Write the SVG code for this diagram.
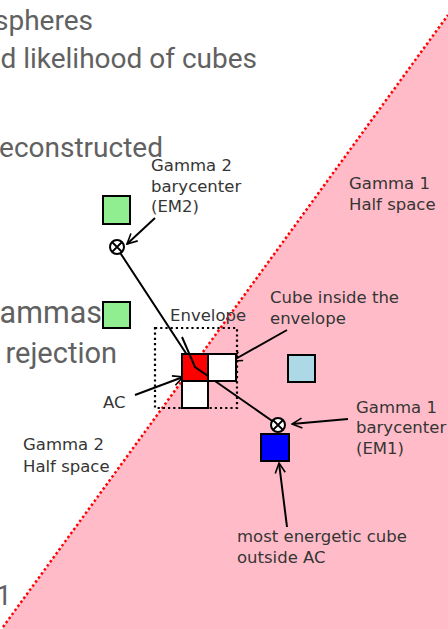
<svg xmlns="http://www.w3.org/2000/svg" width="448" height="629" viewBox="0 0 448 629">
  <style>
    .slide { font-family: Roboto, "Noto Sans", sans-serif; font-size: 28px; fill: #616161; text-anchor: end; }
    .lbl { font-family: "DejaVu Sans", Verdana, sans-serif; font-size: 16.5px; fill: #353535; }
    .cube { stroke: #000; stroke-width: 2; }
    .wire { fill: none; stroke: #000; stroke-width: 2; }
    .arrow { fill: none; stroke: #000; stroke-width: 2; marker-end: url(#head); }
    .bary { fill: #fff; stroke: #000; stroke-width: 2; }
  </style>
  <defs>
    <marker id="head" viewBox="0 0 12 12" refX="11" refY="6" markerWidth="6" markerHeight="6" orient="auto" markerUnits="strokeWidth">
      <path d="M1,1 L11,6 L1,11" fill="none" stroke="#000" stroke-width="1.6"/>
    </marker>
  </defs>

  <rect width="448" height="629" fill="#fff"/>

  <!-- slide text partly hidden behind the figure -->
  <g id="slide-text">
    <text class="slide" x="93" y="30">spheres</text>
    <text class="slide" x="257" y="68">d likelihood of cubes</text>
    <text class="slide" x="163" y="157">econstructed</text>
    <text class="slide" x="102" y="323" style="font-size:30.5px">ammas</text>
    <text class="slide" x="117" y="363" style="font-size:29px">rejection</text>
    <text class="slide" x="-4" y="605" style="text-anchor:start">1</text>
  </g>

  <!-- gamma 1 half space with its dotted boundary -->
  <g id="gamma1-halfspace">
    <polygon points="3,627 448,15 448,629 3,629" fill="#ffbcc8"/>
    <line x1="3" y1="627" x2="448" y2="15" stroke="#ff0000" stroke-width="2.5" stroke-dasharray="2.4,2.6"/>
  </g>

  <!-- connectors -->
  <g id="connectors">
    <polyline class="wire" points="117,248 195,367 278,425"/>
    <line class="arrow" x1="155" y1="218" x2="127" y2="244"/>
    <line class="arrow" x1="287" y1="330" x2="232" y2="361"/>
    <line class="arrow" x1="135" y1="395" x2="183" y2="377"/>
    <line class="arrow" x1="348" y1="419" x2="292" y2="424"/>
    <line class="arrow" x1="287" y1="527" x2="279" y2="463"/>
  </g>

  <g id="green-cube-1"><rect class="cube" x="103" y="196" width="27" height="28" fill="#90ee90"/></g>
  <g id="green-cube-2"><rect class="cube" x="103" y="302" width="27" height="26" fill="#90ee90"/></g>

  <g id="envelope">
    <rect x="155" y="328" width="82" height="80" fill="none" stroke="#000" stroke-width="2.2" stroke-dasharray="2.2,3"/>
  </g>

  <g id="ac-cube"><rect class="cube" x="182" y="354" width="26" height="27" fill="#ff0000"/></g>
  <g id="cube-right"><rect class="cube" x="208" y="354" width="28" height="27" fill="#fff"/></g>
  <g id="cube-below"><rect class="cube" x="182" y="381" width="26" height="27" fill="#fff"/></g>
  <g id="light-cube"><rect class="cube" x="288" y="355" width="27" height="27" fill="#add8e6"/></g>
  <g id="energetic-cube"><rect class="cube" x="261" y="434" width="28" height="27" fill="#0000ff"/></g>

  <!-- redraw the wire over the AC cube -->
  <polyline class="wire" points="182,337 195,367 208,376"/>

  <g id="em2">
    <circle class="bary" cx="117" cy="247" r="7"/>
    <path d="M112,242 L122,252 M122,242 L112,252" stroke="#000" stroke-width="1.8"/>
  </g>
  <g id="em1">
    <circle class="bary" cx="278" cy="425" r="7"/>
    <path d="M273,420 L283,430 M283,420 L273,430" stroke="#000" stroke-width="1.8"/>
  </g>

  <g id="labels">
    <text class="lbl" x="151" y="171">Gamma 2</text>
    <text class="lbl" x="151" y="192">barycenter</text>
    <text class="lbl" x="151" y="212">(EM2)</text>
    <text class="lbl" x="349" y="189">Gamma 1</text>
    <text class="lbl" x="349" y="210">Half space</text>
    <text class="lbl" x="170" y="321">Envelope</text>
    <text class="lbl" x="270" y="303">Cube inside the</text>
    <text class="lbl" x="270" y="324">envelope</text>
    <text class="lbl" x="103" y="408">AC</text>
    <text class="lbl" x="23" y="450">Gamma 2</text>
    <text class="lbl" x="23" y="472">Half space</text>
    <text class="lbl" x="356" y="413">Gamma 1</text>
    <text class="lbl" x="356" y="433">barycenter</text>
    <text class="lbl" x="356" y="454">(EM1)</text>
    <text class="lbl" x="237" y="542">most energetic cube</text>
    <text class="lbl" x="237" y="563">outside AC</text>
  </g>
</svg>
